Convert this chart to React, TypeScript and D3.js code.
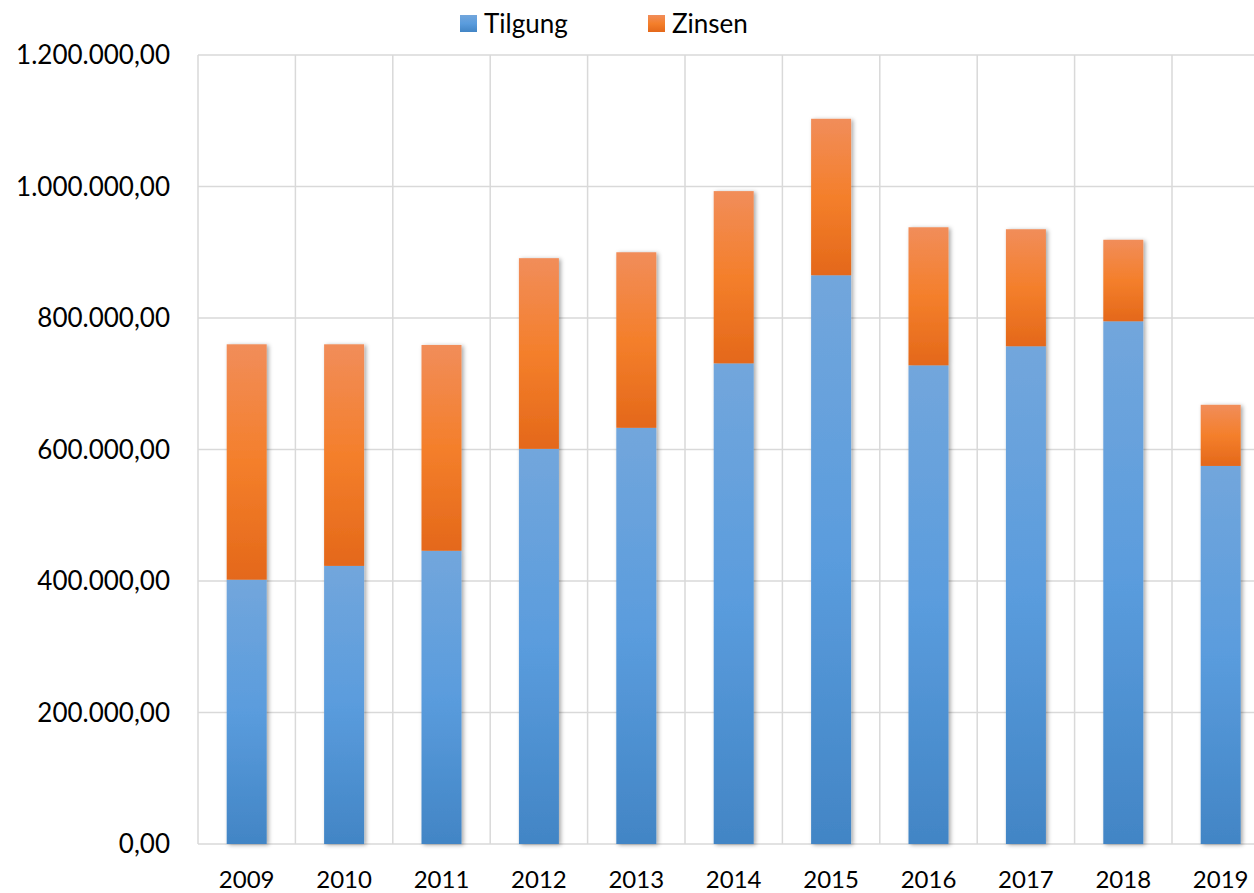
import React from 'react'
import * as d3 from 'd3'

const years = ['2009', '2010', '2011', '2012', '2013', '2014', '2015', '2016', '2017', '2018', '2019']
const tilgung = [402000, 423000, 446000, 601000, 633000, 731000, 865000, 728000, 757000, 795000, 575000]
const zinsen = [358000, 337000, 313000, 290000, 267000, 262000, 238000, 210000, 178000, 124000, 93000]
const yTicks = [0, 200000, 400000, 600000, 800000, 1000000, 1200000]
const seriesNames = ['Tilgung', 'Zinsen']

const width = 1254
const height = 893
const marginLeft = 198
const marginTop = 55
const plotBottom = 844
const bandWidth = 97.4

const fmt = (v: number) =>
  v.toLocaleString('de-DE', { minimumFractionDigits: 2, maximumFractionDigits: 2 })

export default function App() {
  const x = d3.scaleBand<string>()
    .domain(years)
    .range([marginLeft, marginLeft + bandWidth * years.length])
    .paddingInner(0)

  const y = d3.scaleLinear().domain([0, 1200000]).range([plotBottom, marginTop])

  const rows = years.map((year, i) => ({ year, Tilgung: tilgung[i], Zinsen: zinsen[i] }))
  const stacked = d3.stack<any>().keys(seriesNames)(rows)

  const barW = 40
  const font = 'Lato, "Open Sans", sans-serif'

  return (
    <svg width={width} height={height} style={{ position: 'absolute', left: 0, top: 0, overflow: 'hidden' }}>
      <defs>
        <linearGradient id="gTilgung" x1="0" y1="0" x2="0" y2="1">
          <stop offset="0" stopColor="#72a6dc" />
          <stop offset="0.5" stopColor="#5a9cdd" />
          <stop offset="1" stopColor="#4285c5" />
        </linearGradient>
        <linearGradient id="gZinsen" x1="0" y1="0" x2="0" y2="1">
          <stop offset="0" stopColor="#f18d5a" />
          <stop offset="0.5" stopColor="#f47f2b" />
          <stop offset="1" stopColor="#e4681a" />
        </linearGradient>
        <filter id="shadow" x="-30%" y="-10%" width="160%" height="120%">
          <feDropShadow dx="2" dy="1" stdDeviation="2.2" floodColor="#000" floodOpacity="0.35" />
        </filter>
      </defs>
      <rect width={width} height={height} fill="#fff" />

      {/* gridlines */}
      {yTicks.map(t => (
        <line key={t} x1={marginLeft} x2={width} y1={y(t)} y2={y(t)} stroke="#d9d9d9" strokeWidth={1.5} />
      ))}
      {d3.range(years.length + 1).map(i => (
        <line key={i} x1={marginLeft + i * bandWidth} x2={marginLeft + i * bandWidth}
          y1={marginTop} y2={plotBottom} stroke="#d9d9d9" strokeWidth={1.5} />
      ))}

      {/* bars */}
      <g filter="url(#shadow)">
        {years.map((yr, i) => {
          const cx = x(yr)! + x.bandwidth() / 2
          return (
            <g key={yr}>
              {stacked.map(s => (
                <rect key={s.key}
                  x={cx - barW / 2}
                  y={y(s[i][1])}
                  width={barW}
                  height={y(s[i][0]) - y(s[i][1])}
                  fill={`url(#g${s.key})`} />
              ))}
            </g>
          )
        })}
      </g>

      {/* y labels */}
      {yTicks.map(t => (
        <text key={t} x={170} y={y(t)} dy="0.35em" textAnchor="end"
          fontFamily={font} fontSize={26} fill="#000">{fmt(t)}</text>
      ))}

      {/* x labels */}
      {years.map(yr => (
        <text key={yr} x={x(yr)! + x.bandwidth() / 2} y={888} textAnchor="middle"
          fontFamily={font} fontSize={24} fill="#000">{yr}</text>
      ))}

      {/* legend */}
      <rect x={460} y={15} width={17} height={17} fill="url(#gTilgung)" />
      <text x={484} y={24} dy="0.35em" fontFamily={font} fontSize={26} fill="#000">{seriesNames[0]}</text>
      <rect x={648} y={15} width={17} height={17} fill="url(#gZinsen)" />
      <text x={672} y={24} dy="0.35em" fontFamily={font} fontSize={26} fill="#000">{seriesNames[1]}</text>
    </svg>
  )
}
